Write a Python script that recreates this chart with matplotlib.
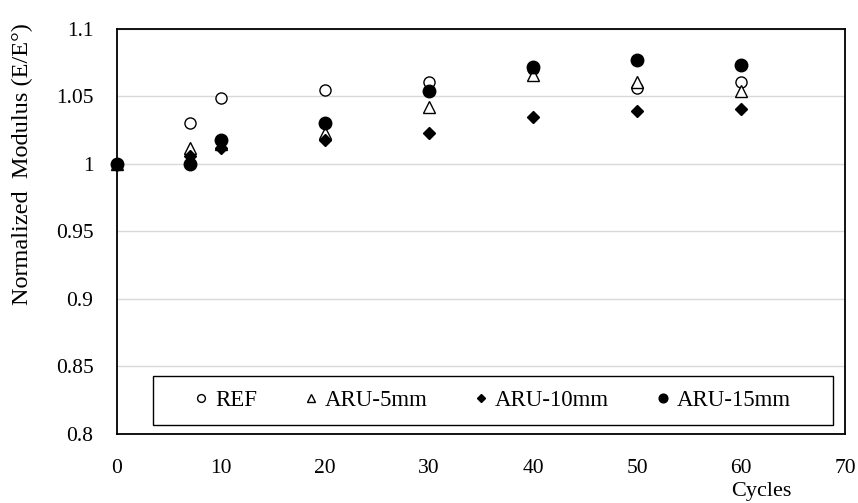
"""
Normalized modulus vs. freeze-thaw cycles, scatter comparison of four mixes.
"""

import matplotlib

matplotlib.use("Agg")
import matplotlib.pyplot as plt
from matplotlib.patches import Rectangle

cycles = [0, 7, 10, 20, 30, 40, 50, 60]

ref = [1.000, 1.030, 1.049, 1.055, 1.061, 1.070, 1.056, 1.061]
aru_5 = [1.000, 1.012, 1.015, 1.023, 1.042, 1.066, 1.061, 1.054]
aru_10 = [1.000, 1.006, 1.012, 1.018, 1.023, 1.035, 1.039, 1.041]
aru_15 = [1.000, 1.000, 1.018, 1.030, 1.054, 1.072, 1.077, 1.073]

series_labels = ["REF", "ARU-5mm", "ARU-10mm", "ARU-15mm"]
y_ticks = [0.8, 0.85, 0.9, 0.95, 1.0, 1.05, 1.1]
y_tick_labels = ["0.8", "0.85", "0.9", "0.95", "1", "1.05", "1.1"]
x_ticks = [0, 10, 20, 30, 40, 50, 60, 70]

plt.rcParams["font.family"] = ["Liberation Serif", "DejaVu Serif"]

fig = plt.figure(figsize=(8.58, 5.03), dpi=100)
ax = fig.add_axes([0.1364, 0.1372, 0.8485, 0.8052])

styles = [
    (ref, "o", "white", 8),
    (aru_5, "^", "white", 8.5),
    (aru_10, "D", "black", 6.5),
    (aru_15, "o", "black", 9),
]
for (vals, marker, face, size), label in zip(styles, series_labels):
    ax.plot(
        cycles,
        vals,
        linestyle="none",
        marker=marker,
        markersize=size,
        markerfacecolor=face,
        markeredgecolor="black",
        markeredgewidth=1.0,
        label=label,
        clip_on=False,
        zorder=3,
    )

ax.set_xlim(0, 70)
ax.set_ylim(0.8, 1.1)
ax.set_xticks(x_ticks)
ax.set_yticks(y_ticks)
ax.set_yticklabels(y_tick_labels)
ax.tick_params(axis="both", length=0, labelsize=15.5)
ax.tick_params(axis="y", pad=17)
ax.tick_params(axis="x", pad=18)
ax.grid(True, axis="y", color="#d9d9d9", linewidth=1.0)
ax.set_axisbelow(True)

for spine in ax.spines.values():
    spine.set_color("black")
    spine.set_linewidth(1.3)

ax.set_ylabel("Normalized  Modulus (E/E°)", fontsize=17.5)
ax.yaxis.set_label_coords(-0.115, 0.667)
ax.set_xlabel("Cycles", fontsize=16, va="center")
ax.xaxis.set_label_coords(0.885, -0.143)

# legend box drawn separately so the entries stay centred inside a wide frame
ax.add_patch(
    Rectangle(
        (0.049, 0.022),
        0.935,
        0.121,
        transform=ax.transAxes,
        facecolor="white",
        edgecolor="black",
        linewidth=1.0,
        zorder=4,
    )
)
leg = ax.legend(
    loc="center",
    bbox_to_anchor=(0.5165, 0.0825),
    ncol=4,
    fontsize=16.5,
    markerscale=0.7,
    handlelength=0.5,
    handletextpad=0.35,
    columnspacing=2.1,
    frameon=False,
)
leg.set_zorder(5)

fig.savefig("out.png", dpi=100)
plt.close(fig)
